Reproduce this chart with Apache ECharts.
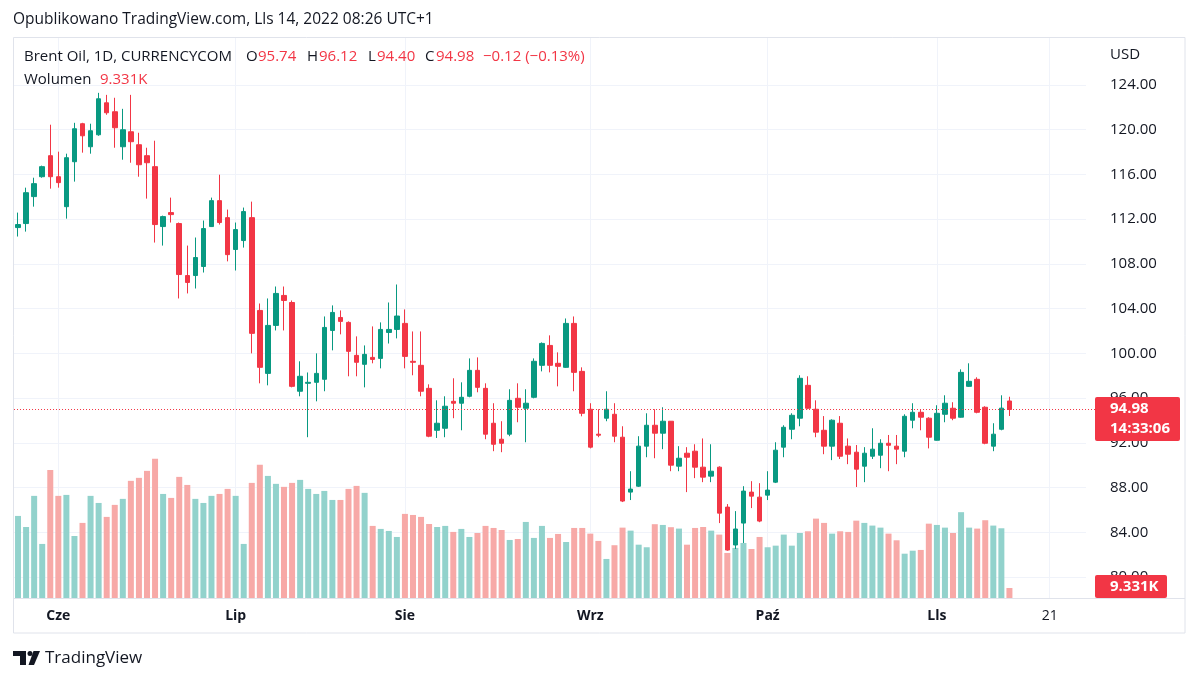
<!DOCTYPE html>
<html>
<head>
<meta charset="utf-8">
<script src="https://cdn.jsdelivr.net/npm/echarts@6/dist/echarts.min.js"></script>
<style>
html,body{margin:0;padding:0;background:#fff;}
#main{width:1200px;height:682px;}
</style>
</head>
<body>
<div id="main"></div>
<script>
// ---- DATA ----
const dates = [
'2022-05-25','2022-05-26','2022-05-27','2022-05-30','2022-05-31',
'2022-06-01','2022-06-02','2022-06-03','2022-06-06','2022-06-07','2022-06-08','2022-06-09','2022-06-10','2022-06-13','2022-06-14','2022-06-15','2022-06-16','2022-06-17','2022-06-20','2022-06-21','2022-06-22','2022-06-23','2022-06-24','2022-06-27','2022-06-28','2022-06-29','2022-06-30',
'2022-07-01','2022-07-04','2022-07-05','2022-07-06','2022-07-07','2022-07-08','2022-07-11','2022-07-12','2022-07-13','2022-07-14','2022-07-15','2022-07-18','2022-07-19','2022-07-20','2022-07-21','2022-07-22','2022-07-25','2022-07-26','2022-07-27','2022-07-28','2022-07-29',
'2022-08-01','2022-08-02','2022-08-03','2022-08-04','2022-08-05','2022-08-08','2022-08-09','2022-08-10','2022-08-11','2022-08-12','2022-08-15','2022-08-16','2022-08-17','2022-08-18','2022-08-19','2022-08-22','2022-08-23','2022-08-24','2022-08-25','2022-08-26','2022-08-29','2022-08-30','2022-08-31',
'2022-09-01','2022-09-02','2022-09-05','2022-09-06','2022-09-07','2022-09-08','2022-09-09','2022-09-12','2022-09-13','2022-09-14','2022-09-15','2022-09-16','2022-09-19','2022-09-20','2022-09-21','2022-09-22','2022-09-23','2022-09-26','2022-09-27','2022-09-28','2022-09-29','2022-09-30',
'2022-10-03','2022-10-04','2022-10-05','2022-10-06','2022-10-07','2022-10-10','2022-10-11','2022-10-12','2022-10-13','2022-10-14','2022-10-17','2022-10-18','2022-10-19','2022-10-20','2022-10-21','2022-10-24','2022-10-25','2022-10-26','2022-10-27','2022-10-28','2022-10-31',
'2022-11-01','2022-11-02','2022-11-03','2022-11-04','2022-11-07','2022-11-08','2022-11-09','2022-11-10','2022-11-11','2022-11-14',
'2022-11-15','2022-11-16','2022-11-17','2022-11-18','2022-11-21','2022-11-22','2022-11-23','2022-11-24','2022-11-25'
];
const opens = [111.25,111.61,114.02,115.80,117.68,115.80,113.12,117.14,120.54,118.48,119.55,122.41,121.61,118.48,119.82,118.66,117.68,116.70,111.34,112.59,111.61,106.96,106.96,107.77,111.34,113.66,112.14,109.29,110.09,112.14,103.84,98.21,102.50,105.18,104.55,96.61,97.32,97.41,97.68,102.05,103.21,102.77,99.82,99.02,99.64,99.55,101.87,102.14,102.68,99.29,98.93,96.87,93.12,93.30,95.71,95.54,96.16,98.48,96.87,93.75,92.32,92.77,95.98,95.09,96.07,98.93,100.71,99.11,98.75,102.68,98.39,95.00,92.77,94.20,94.55,92.50,87.59,88.12,91.70,93.57,92.86,93.93,89.91,91.07,91.25,89.82,89.02,89.82,86.25,82.86,84.82,87.59,87.14,87.32,88.48,91.61,93.21,94.20,97.14,95.00,93.12,91.70,93.75,91.70,91.16,89.91,90.80,90.89,91.96,91.70,91.25,94.02,94.73,94.20,92.23,94.55,95.09,94.29,97.05,97.68,95.18,91.70,93.21,95.74];
const closes = [111.52,114.37,115.18,116.70,115.80,115.27,117.50,120.09,119.46,119.91,122.77,121.52,120.18,120.00,118.93,116.87,117.05,111.52,112.23,112.41,107.05,106.34,108.57,111.16,113.66,111.70,108.83,111.07,112.68,101.79,98.75,102.50,105.36,104.73,97.05,97.95,97.41,98.21,102.32,103.66,102.86,100.18,99.20,99.91,99.46,102.14,102.14,103.34,99.73,99.20,96.61,92.59,93.75,95.27,95.54,96.07,98.48,96.96,92.77,91.87,91.96,95.80,95.18,95.54,99.29,100.89,98.93,98.84,102.68,98.30,94.64,91.61,92.68,95.00,92.59,86.79,87.86,91.70,93.57,92.86,93.93,90.00,90.62,90.71,89.82,88.93,89.46,85.71,82.41,84.29,87.68,87.23,85.00,87.77,91.34,93.39,94.46,97.77,95.09,92.95,91.70,94.02,90.80,90.98,89.64,91.07,91.43,91.96,91.78,91.43,94.37,94.73,94.29,92.50,94.64,95.54,94.20,98.30,97.50,94.73,91.96,92.77,95.10,94.98];
const lows = [110.45,110.89,113.12,115.71,114.73,114.82,112.05,115.36,117.95,117.86,119.46,121.34,118.39,117.32,117.05,115.80,113.84,109.91,109.64,111.70,104.91,105.36,105.80,107.23,111.30,111.52,108.23,107.41,109.46,100.00,97.32,97.14,102.05,102.05,96.96,96.16,92.50,95.71,96.61,100.27,101.70,97.95,97.95,96.96,99.11,98.66,100.88,101.34,98.66,98.04,96.16,92.50,92.43,92.50,94.20,93.12,96.07,96.52,92.32,91.25,91.16,92.59,93.84,92.05,95.98,98.39,98.30,97.05,98.70,96.61,94.37,91.50,92.50,93.93,92.05,86.70,86.88,88.05,90.71,90.62,91.43,89.46,89.46,87.59,88.84,88.48,88.48,84.82,82.35,82.50,83.04,86.16,84.90,86.88,88.40,90.71,92.32,93.48,95.00,92.50,90.98,90.45,90.55,90.09,88.05,88.48,90.55,89.73,89.46,90.09,90.71,93.30,93.12,91.50,92.20,93.84,94.02,94.25,97.00,94.64,91.87,91.25,93.12,94.40];
const highs = [112.59,114.82,115.71,116.79,120.45,118.04,117.86,120.62,120.62,120.54,123.30,123.12,122.86,121.87,123.12,119.73,118.39,119.02,112.32,113.93,111.70,109.64,110.36,111.88,113.93,115.98,112.86,111.70,113.04,113.57,104.46,104.91,105.98,105.98,104.73,99.29,98.29,100.00,103.30,104.29,103.84,102.86,101.52,100.71,102.41,102.77,104.55,106.16,103.93,101.96,101.96,97.23,95.80,96.16,97.77,97.41,99.55,99.64,97.32,95.54,93.93,96.79,97.32,96.79,99.55,100.98,101.61,100.09,103.12,103.30,98.75,95.54,95.00,96.61,95.54,93.48,89.46,92.59,94.64,95.00,95.18,93.95,91.70,91.61,91.87,92.39,91.87,89.90,86.52,85.89,88.12,88.57,88.39,89.46,92.05,93.57,94.64,98.04,97.95,95.80,94.39,94.10,94.39,92.39,91.80,91.61,93.30,92.32,92.70,92.70,94.55,95.54,95.00,94.29,95.36,96.25,95.63,98.57,99.11,97.86,95.27,93.75,96.25,96.12];
const volumesK = [76.5,66.2,95.2,50.4,119.4,95.2,96.1,57.8,70.0,95.2,88.6,75.6,86.8,92.4,109.2,112.0,118.5,129.7,97.0,93.3,112.9,105.4,92.4,88.6,95.2,97.0,101.7,95.2,50.4,107.3,124.1,113.8,106.4,103.6,107.3,110.1,101.7,97.0,99.8,91.4,91.4,101.7,104.5,98.0,67.2,64.4,62.5,56.9,78.4,77.4,75.6,69.0,66.2,67.2,61.6,64.4,56.9,60.6,67.2,65.3,63.4,54.1,55.0,70.9,56.0,67.2,56.0,59.7,52.2,65.3,65.3,60.0,53.2,36.4,49.2,65.6,62.8,49.7,47.3,68.8,68.1,66.0,64.7,49.7,65.3,66.2,62.8,59.1,42.0,46.7,51.3,45.7,56.9,47.3,48.8,59.1,48.8,60.6,62.2,74.0,70.0,60.0,62.2,61.6,72.1,70.0,67.5,65.6,60.0,53.8,41.3,44.1,44.8,69.3,68.1,65.6,60.6,80.0,65.6,64.7,72.5,67.5,65.0,9.331];
const monthNames = {'06':'Cze','07':'Lip','08':'Sie','09':'Wrz','10':'Paź','11':'Lls'};
const extraTickDates = ['2022-11-21'];
const lastPrice = 94.98;

// ---- helpers ----
const UP = '#089981', DOWN = '#f23645';
const UPV = '#92d2cc', DOWNV = '#f7a9a7';
const candleData = opens.map((o, i) => [o, closes[i], lows[i], highs[i]]);
const volData = volumesK.map((v, i) => ({
  value: v,
  itemStyle: { color: closes[i] >= opens[i] ? UPV : DOWNV }
}));
const tickSet = new Set();
dates.forEach((d, i) => {
  if (i > 0 && d.slice(5, 7) !== dates[i - 1].slice(5, 7)) tickSet.add(i);
  if (extraTickDates.includes(d)) tickSet.add(i);
});
const isTick = (idx) => tickSet.has(idx);

const FONT = 'Open Sans';
const TXT = '#131722';
const LF = 15; // legend font size

const baseGraphics = [
  { type: 'rect', silent: true, z: 50, shape: { x: 13.5, y: 37.5, width: 1171.5, height: 595.5 }, style: { fill: 'none', stroke: '#e0e3eb', lineWidth: 1 } },
  { type: 'line', silent: true, z: 50, shape: { x1: 14, y1: 598.5, x2: 1185, y2: 598.5 }, style: { stroke: '#e0e3eb', lineWidth: 1 } },
  { type: 'text', z: 60, style: { text: 'Opublikowano TradingView.com, Lls 14, 2022 08:26 UTC+1', x: 13, y: 20, fill: TXT, fontSize: 15.5, fontFamily: FONT, verticalAlign: 'middle' } },
  { type: 'text', z: 60, style: { text: 'Brent Oil, 1D, CURRENCYCOM', x: 24, y: 57, fill: TXT, fontSize: LF, fontFamily: FONT, verticalAlign: 'middle' } },
  { type: 'text', z: 60, style: { text: 'O', x: 246, y: 57, fill: TXT, fontSize: LF, fontFamily: FONT, verticalAlign: 'middle' } },
  { type: 'text', z: 60, style: { text: '95.74', x: 258, y: 57, fill: DOWN, fontSize: LF, fontFamily: FONT, verticalAlign: 'middle' } },
  { type: 'text', z: 60, style: { text: 'H', x: 307, y: 57, fill: TXT, fontSize: LF, fontFamily: FONT, verticalAlign: 'middle' } },
  { type: 'text', z: 60, style: { text: '96.12', x: 319, y: 57, fill: DOWN, fontSize: LF, fontFamily: FONT, verticalAlign: 'middle' } },
  { type: 'text', z: 60, style: { text: 'L', x: 368, y: 57, fill: TXT, fontSize: LF, fontFamily: FONT, verticalAlign: 'middle' } },
  { type: 'text', z: 60, style: { text: '94.40', x: 377, y: 57, fill: DOWN, fontSize: LF, fontFamily: FONT, verticalAlign: 'middle' } },
  { type: 'text', z: 60, style: { text: 'C', x: 425, y: 57, fill: TXT, fontSize: LF, fontFamily: FONT, verticalAlign: 'middle' } },
  { type: 'text', z: 60, style: { text: '94.98', x: 436, y: 57, fill: DOWN, fontSize: LF, fontFamily: FONT, verticalAlign: 'middle' } },
  { type: 'text', z: 60, style: { text: '\u22120.12 (\u22120.13%)', x: 483, y: 57, fill: DOWN, fontSize: LF, fontFamily: FONT, verticalAlign: 'middle' } },
  { type: 'text', z: 60, style: { text: 'Wolumen', x: 24, y: 80, fill: TXT, fontSize: LF, fontFamily: FONT, verticalAlign: 'middle' } },
  { type: 'text', z: 60, style: { text: '9.331K', x: 100, y: 80, fill: DOWN, fontSize: LF, fontFamily: FONT, verticalAlign: 'middle' } },
  { type: 'text', z: 60, style: { text: 'USD', x: 1110, y: 55, fill: TXT, fontSize: 15, fontFamily: FONT, verticalAlign: 'middle' } },
  { type: 'rect', z: 70, shape: { x: 1095, y: 397, width: 85, height: 44, r: 2 }, style: { fill: DOWN } },
  { type: 'text', z: 71, style: { text: '94.98', x: 1110, y: 409, fill: '#ffffff', fontSize: 15, fontWeight: 'bold', fontFamily: FONT, verticalAlign: 'middle' } },
  { type: 'text', z: 71, style: { text: '14:33:06', x: 1110, y: 429, fill: '#ffffff', fontSize: 15, fontWeight: 'bold', fontFamily: FONT, verticalAlign: 'middle' } },
  { type: 'rect', z: 70, shape: { x: 1095, y: 575, width: 72, height: 23, r: 2 }, style: { fill: DOWN } },
  { type: 'text', z: 71, style: { text: '9.331K', x: 1110, y: 587, fill: '#ffffff', fontSize: 15, fontWeight: 'bold', fontFamily: FONT, verticalAlign: 'middle' } },
  // TradingView logo
  { type: 'rect', z: 60, shape: { x: 13, y: 651, width: 13, height: 5 }, style: { fill: TXT } },
  { type: 'rect', z: 60, shape: { x: 20, y: 651, width: 6, height: 14 }, style: { fill: TXT } },
  { type: 'circle', z: 60, shape: { cx: 30, cy: 653.5, r: 2.5 }, style: { fill: TXT } },
  { type: 'polygon', z: 60, shape: { points: [[33.5, 651], [40, 651], [34, 665], [28.5, 665]] }, style: { fill: TXT } },
  { type: 'text', z: 60, style: { text: 'TradingView', x: 45, y: 658, fill: TXT, fontSize: 17, fontFamily: FONT, verticalAlign: 'middle' } }
];

const chart = echarts.init(document.getElementById('main'));
chart.setOption({
  animation: false,
  backgroundColor: '#ffffff',
  textStyle: { fontFamily: FONT },
  grid: [
    { left: 14, right: 114, top: 40.3, bottom: 60.3 },
    { left: 14, right: 114, top: 38, bottom: 84 }
  ],
  xAxis: [
    { type: 'category', data: dates, gridIndex: 0, show: false, boundaryGap: true },
    {
      type: 'category', data: dates, gridIndex: 1, boundaryGap: true,
      axisLine: { show: false }, axisTick: { show: false },
      axisLabel: {
        interval: (idx) => isTick(idx),
        margin: 11,
        color: TXT,
        fontSize: 14,
        fontFamily: FONT,
        formatter: (val) => {
          if (extraTickDates.includes(val)) return '{n|' + String(parseInt(val.slice(8), 10)) + '}';
          return '{b|' + monthNames[val.slice(5, 7)] + '}';
        },
        rich: {
          b: { fontWeight: 'bold', fontSize: 14, color: TXT, fontFamily: FONT },
          n: { fontSize: 14, color: TXT, fontFamily: FONT }
        }
      },
      splitLine: { show: true, interval: (idx) => isTick(idx), alignWithLabel: true, lineStyle: { color: '#f0f3fa', width: 1 } }
    }
  ],
  yAxis: [
    {
      type: 'value', gridIndex: 0, position: 'right', min: 76, max: 128, interval: 4,
      axisLine: { show: false }, axisTick: { show: false },
      axisLabel: {
        margin: 24, color: TXT, fontSize: 15, fontFamily: FONT,
        showMinLabel: false, showMaxLabel: false,
        formatter: (v) => v.toFixed(2)
      },
      splitLine: { show: true, showMinLine: false, showMaxLine: false, lineStyle: { color: '#f0f3fa', width: 1 } }
    },
    { type: 'value', gridIndex: 1, min: 0, max: 522, show: false, splitLine: { show: false } }
  ],
  series: [
    {
      type: 'bar', name: 'Wolumen', xAxisIndex: 1, yAxisIndex: 1, data: volData,
      barWidth: 6, z: 1, silent: true
    },
    {
      type: 'candlestick', name: 'Brent Oil', xAxisIndex: 0, yAxisIndex: 0, data: candleData,
      barWidth: 5, z: 3, silent: true,
      itemStyle: { color: UP, color0: DOWN, borderColor: UP, borderColor0: DOWN, borderWidth: 1 }
    }
  ],
  graphic: baseGraphics
});

// last-price dotted line, positioned through the price axis scale
const yLast = Math.round(chart.convertToPixel({ yAxisIndex: 0 }, lastPrice)) + 0.5;
const xLeft = chart.convertToPixel({ xAxisIndex: 0 }, dates[0]) - 4;
chart.setOption({
  graphic: baseGraphics.concat([
    { type: 'line', silent: true, z: 40, shape: { x1: xLeft, y1: yLast, x2: 1095, y2: yLast },
      style: { stroke: DOWN, lineWidth: 1, lineDash: [1, 2] } }
  ])
});
</script>
</body>
</html>
